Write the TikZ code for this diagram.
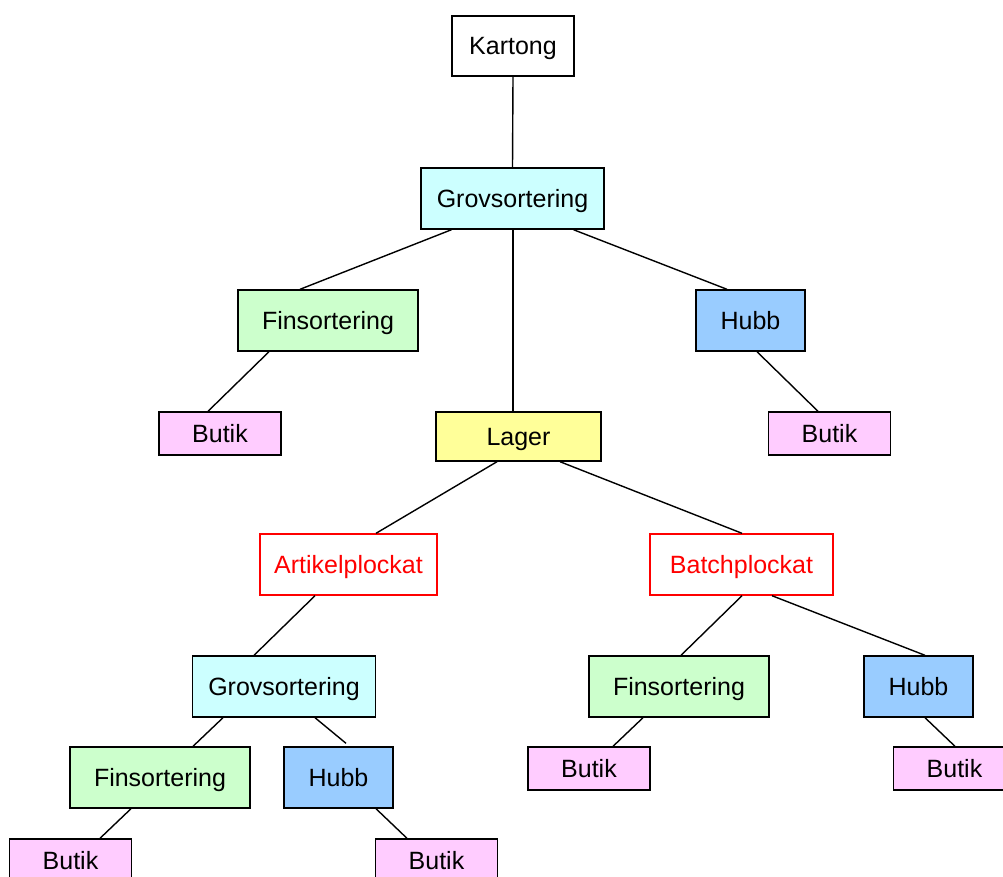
\documentclass[tikz,border=0pt]{standalone}
\usepackage{fontspec}
\setmainfont{Liberation Sans}
\begin{document}
\begin{tikzpicture}[x=1pt,y=-1pt,
  box/.style={draw=black,line width=1.4pt,inner sep=0pt,text height=20pt,text depth=3pt,
    font=\fontsize{25}{30}\selectfont,text=black},
  wide/.style={box,minimum height=61pt},
  grov/.style={wide,fill=grovcyan,minimum width=183pt},
  fins/.style={wide,fill=fingreen,minimum width=180pt},
  hubb/.style={wide,fill=hubbblue,minimum width=109pt},
  butik/.style={box,fill=butpink,minimum width=122pt,minimum height=43pt},
  plock/.style={wide,draw=red,text=red,fill=white},
  link/.style={line width=1.4pt}]
\definecolor{hubbblue}{RGB}{153,204,255}
\definecolor{grovcyan}{RGB}{204,255,255}
\definecolor{fingreen}{RGB}{204,255,204}
\definecolor{butpink}{RGB}{255,204,255}
\definecolor{lagyellow}{RGB}{255,255,153}
\useasboundingbox (0,0) rectangle (1003,876);
\clip (0,0) rectangle (1003,876);

% top level
\node[box,fill=white,minimum width=122pt,minimum height=60pt] (kart) at (513,46) {Kartong};
\node[grov] (grov1) at (512.5,198.5) {Grovsortering};
\node[fins] (fin1) at (328,320.5) {Finsortering};
\node[hubb] (hubb1) at (750.5,320.5) {Hubb};
\node[butik] (but1) at (220,433.5) {Butik};
\node[box,fill=lagyellow,minimum width=165pt,minimum height=49pt] (lager) at (518.5,436.5) {Lager};
\node[butik] (but2) at (829.5,433.5) {Butik};

% picking
\node[plock,minimum width=177pt] (art) at (348.5,564.5) {Artikelplockat};
\node[plock,minimum width=183pt] (batch) at (741.5,564.5) {Batchplockat};

% lower levels
\node[grov] (grov2) at (284,686.5) {Grovsortering};
\node[fins] (fin2) at (679,686.5) {Finsortering};
\node[hubb] (hubb2) at (918.5,686.5) {Hubb};
\node[fins] (fin3) at (160,777.5) {Finsortering};
\node[hubb] (hubb3) at (338.5,777.5) {Hubb};
\node[butik] (but3) at (589,768.5) {Butik};
\node[butik] (but4) at (954.5,768.5) {Butik};
\node[butik] (but5) at (70.5,860.5) {Butik};
\node[butik] (but6) at (436.5,860.5) {Butik};

% connectors
\draw[link] (kart.south) -- (grov1.north);
\draw[link] ([xshift=-61pt]grov1.south) -- ([xshift=-28pt]fin1.north);
\draw[link] ([xshift=0.5pt]grov1.south) -- ([xshift=-5.5pt]lager.north);
\draw[link] ([xshift=61pt]grov1.south) -- ([xshift=-23.5pt]hubb1.north);
\draw[link] ([xshift=-59pt]fin1.south) -- ([xshift=-12pt]but1.north);
\draw[link] ([xshift=6.5pt]hubb1.south) -- ([xshift=-11.5pt]but2.north);
\draw[link] ([xshift=-21.5pt]lager.south) -- ([xshift=27.5pt]art.north);
\draw[link] ([xshift=41.5pt]lager.south) -- ([xshift=0.5pt]batch.north);
\draw[link] ([xshift=-33.5pt]art.south) -- ([xshift=-30pt]grov2.north);
\draw[link] ([xshift=0.5pt]batch.south) -- ([xshift=2pt]fin2.north);
\draw[link] ([xshift=30.5pt]batch.south) -- ([xshift=6.5pt]hubb2.north);
\draw[link] ([xshift=-61pt]grov2.south) -- ([xshift=33pt]fin3.north);
\draw[link] ([xshift=31pt]grov2.south) -- ([xshift=7.5pt,yshift=3pt]hubb3.north);
\draw[link] ([xshift=-29pt]fin3.south) -- ([xshift=29.5pt]but5.north);
\draw[link] ([xshift=37.5pt]hubb3.south) -- ([xshift=-29.5pt]but6.north);
\draw[link] ([xshift=-36pt]fin2.south) -- ([xshift=24pt]but3.north);
\draw[link] ([xshift=6.5pt]hubb2.south) -- ([xshift=0.5pt]but4.north);
\end{tikzpicture}
\end{document}
